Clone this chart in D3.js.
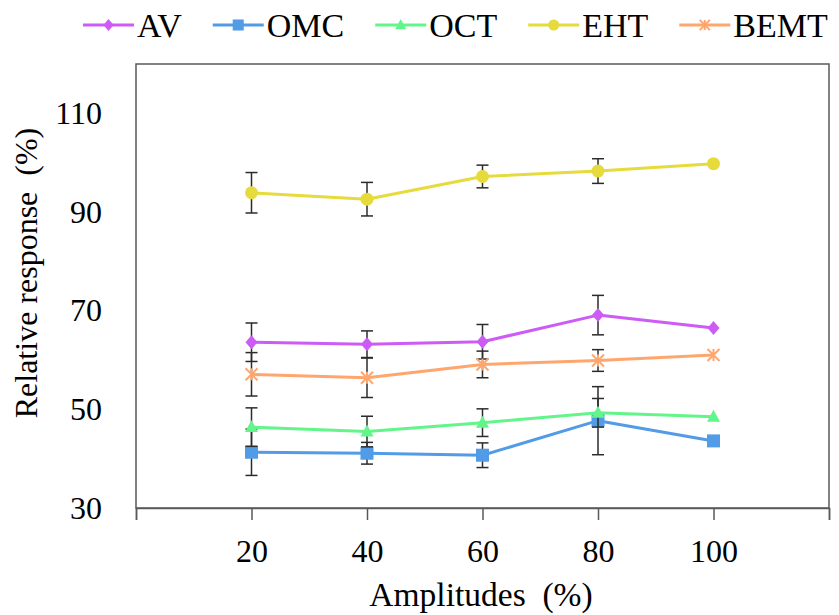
<!DOCTYPE html>
<html>
<head>
<meta charset="utf-8">
<script src="https://cdn.jsdelivr.net/npm/d3@7"></script>
<style>
  html, body { margin: 0; padding: 0; background: #ffffff; }
  svg text { font-family: "Liberation Serif", "Times New Roman", serif; fill: #000; }
</style>
</head>
<body>
<svg id="chart" width="839" height="615"></svg>
<script>
// ---- data ----
const amplitudes = [20, 40, 60, 80, 100];
const xTicks = [0, 20, 40, 60, 80, 100, 120];
const yTicks = [30, 50, 70, 90, 110];
const seriesNames = ["AV", "OMC", "OCT", "EHT", "BEMT"];
const avValues   = [63.6, 63.2, 63.7, 69.1, 66.5];
const avErrors   = [3.9, 2.7, 3.5, 4.0, 0];
const omcValues  = [41.3, 41.1, 40.7, 47.7, 43.6];
const omcErrors  = [4.7, 2.2, 2.5, 6.9, 0];
const octValues  = [46.4, 45.5, 47.3, 49.3, 48.5];
const octErrors  = [3.9, 3.1, 2.8, 2.9, 0];
const ehtValues  = [93.9, 92.6, 97.2, 98.3, 99.8];
const ehtErrors  = [4.1, 3.4, 2.3, 2.5, 0];
const bemtValues = [57.1, 56.4, 59.1, 59.9, 61.0];
const bemtErrors = [4.4, 4.0, 2.7, 2.2, 0];

const colors = { AV: "#cc5cf5", OMC: "#529be6", OCT: "#62f58a", EHT: "#e6db3c", BEMT: "#ffa66e" };
const markers = { AV: "diamond", OMC: "square", OCT: "triangle", EHT: "circle", BEMT: "asterisk" };

const series = [
  { name: "AV", values: avValues, errors: avErrors },
  { name: "OMC", values: omcValues, errors: omcErrors },
  { name: "OCT", values: octValues, errors: octErrors },
  { name: "EHT", values: ehtValues, errors: ehtErrors },
  { name: "BEMT", values: bemtValues, errors: bemtErrors }
];

// ---- layout ----
const svg = d3.select("#chart");
const pL = 136, pR = 829, pT = 64, pB = 508;
const x = d3.scaleLinear().domain([0, 120]).range([pL, pR]);
const y = d3.scaleLinear().domain([30, 120]).range([pB, pT]);
const axisColor = "#595959";

// frame
svg.append("rect")
  .attr("x", pL).attr("y", pT)
  .attr("width", pR - pL).attr("height", pB - pT)
  .attr("fill", "none").attr("stroke", axisColor).attr("stroke-width", 1.5);

// x axis
const gx = svg.append("g").attr("transform", `translate(0,${pB})`)
  .call(d3.axisBottom(x).tickValues(xTicks).tickSize(12).tickPadding(19)
    .tickFormat(d => (d === 0 || d === 120) ? "" : d));
gx.select(".domain").attr("stroke", axisColor).attr("stroke-width", 1.5);
gx.selectAll(".tick line").attr("stroke", axisColor).attr("stroke-width", 1.5);
gx.selectAll(".tick text").attr("font-size", 32).attr("fill", "#000");

// y axis
const gy = svg.append("g").attr("transform", `translate(${pL},0)`)
  .call(d3.axisLeft(y).tickValues(yTicks).tickSize(0).tickPadding(34));
gy.select(".domain").remove();
gy.selectAll(".tick text").attr("font-size", 32).attr("fill", "#000");

// axis titles
svg.append("text")
  .attr("x", 481).attr("y", 606)
  .attr("text-anchor", "middle").attr("font-size", 33.5)
  .text("Amplitudes\u00a0 (%)");
svg.append("text")
  .attr("transform", `translate(37,273) rotate(-90)`)
  .attr("text-anchor", "middle").attr("font-size", 32)
  .text("Relative response\u00a0 (%)");

// marker drawing
function drawMarker(g, type, cx, cy, color, s) {
  s = s || 1;
  if (type === "diamond") {
    g.append("path").attr("d", `M${cx},${cy - 7 * s}L${cx + 6 * s},${cy}L${cx},${cy + 7 * s}L${cx - 6 * s},${cy}Z`).attr("fill", color);
  } else if (type === "square") {
    g.append("rect").attr("x", cx - 6.5 * s).attr("y", cy - 6.5 * s).attr("width", 13 * s).attr("height", 13 * s).attr("fill", color);
  } else if (type === "triangle") {
    g.append("path").attr("d", `M${cx},${cy - 7 * s}L${cx + 6.5 * s},${cy + 5 * s}L${cx - 6.5 * s},${cy + 5 * s}Z`).attr("fill", color);
  } else if (type === "circle") {
    g.append("circle").attr("cx", cx).attr("cy", cy).attr("r", 6.5 * s).attr("fill", color);
  } else if (type === "asterisk") {
    const r = 6 * s;
    const d = `M${cx - r},${cy - r}L${cx + r},${cy + r}M${cx - r},${cy + r}L${cx + r},${cy - r}M${cx},${cy - r}L${cx},${cy + r}`;
    g.append("path").attr("d", d).attr("stroke", color).attr("stroke-width", 2).attr("fill", "none");
  }
}

const line = d3.line().x((d, i) => x(amplitudes[i])).y(d => y(d));

series.forEach(s => {
  const g = svg.append("g");
  const c = colors[s.name];
  g.append("path").datum(s.values).attr("d", line)
    .attr("fill", "none").attr("stroke", c).attr("stroke-width", 3).attr("stroke-linejoin", "round");
  // error bars
  s.values.forEach((v, i) => {
    const e = s.errors[i];
    if (e <= 0) return;
    const cx = x(amplitudes[i]);
    const eg = g.append("g").attr("stroke", "#2b2b2b").attr("stroke-width", 1.5);
    eg.append("line").attr("x1", cx).attr("x2", cx).attr("y1", y(v - e)).attr("y2", y(v + e));
    eg.append("line").attr("x1", cx - 6).attr("x2", cx + 6).attr("y1", y(v + e)).attr("y2", y(v + e));
    eg.append("line").attr("x1", cx - 6).attr("x2", cx + 6).attr("y1", y(v - e)).attr("y2", y(v - e));
  });
  s.values.forEach((v, i) => drawMarker(g, markers[s.name], x(amplitudes[i]), y(v), c));
});

// legend
const legend = svg.append("g");
let lx = 83;
const ly = 25;
seriesNames.forEach(name => {
  const c = colors[name];
  const item = legend.append("g");
  item.append("line").attr("x1", lx).attr("x2", lx + 51).attr("y1", ly).attr("y2", ly)
    .attr("stroke", c).attr("stroke-width", 3);
  drawMarker(item, markers[name], lx + 25.5, ly, c, 0.85);
  const t = item.append("text").attr("x", lx + 54).attr("y", 37).attr("font-size", 34).text(name);
  const w = t.node().getComputedTextLength();
  lx = lx + 54 + w + 31;
});
</script>
</body>
</html>
